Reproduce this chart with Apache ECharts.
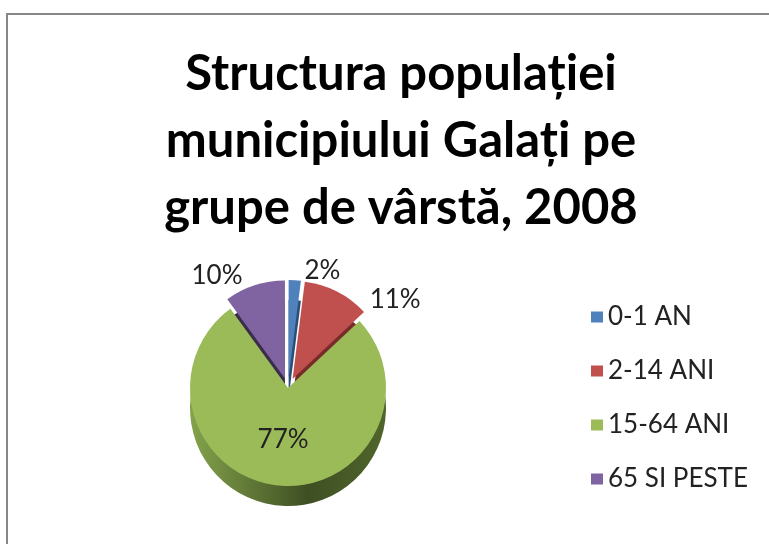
<!DOCTYPE html>
<html>
<head>
<meta charset="utf-8">
<script src="https://cdn.jsdelivr.net/npm/echarts@6/dist/echarts.min.js"></script>
<style>
  html, body { margin: 0; padding: 0; background: #fff; overflow: hidden; }
  #frame { position: absolute; left: 6px; top: 13px; width: 800px; height: 600px; border: 2px solid #878787; }
  #chart { position: absolute; left: 0; top: 0; width: 769px; height: 544px; }
</style>
</head>
<body>
<div id="frame"></div>
<div id="chart"></div>
<script>
// date: structura pe grupe de varsta (procente)
const categories = ['0-1 AN', '2-14 ANI', '15-64 ANI', '65 SI PESTE'];
const shares = [2, 11, 77, 10];
const pulledOut = [true, true, false, true];

const topColors = ['#4F81BD', '#C0504D', '#9BBB59', '#8064A2'];
const sideColors = [
  '#2C4D75',
  '#772C2A',
  new echarts.graphic.LinearGradient(0, 0, 1, 0, [
    { offset: 0, color: '#84A34B' },
    { offset: 0.6, color: '#3E4F23' },
    { offset: 1, color: '#50652B' }
  ]),
  '#3A2D4C'
];

const center = [288, 388];
const radius = 98;
const depth = 20;
const font = 'Lato, "Open Sans", sans-serif';

const chart = echarts.init(document.getElementById('chart'));

const topData = categories.map((name, i) => ({
  name: name,
  value: shares[i],
  selected: pulledOut[i],
  itemStyle: { color: topColors[i] },
  label: shares[i] > 50 ? { position: 'inside' } : {}
}));

const sideData = categories.map((name, i) => ({
  name: name,
  value: shares[i],
  selected: pulledOut[i],
  itemStyle: { color: sideColors[i] }
}));

const option = {
  animation: false,
  title: {
    text: 'Structura populației\nmunicipiului Galați pe\ngrupe de vârstă, 2008',
    left: 396,
    top: 36,
    textAlign: 'center',
    textStyle: {
      fontFamily: font,
      fontSize: 49,
      fontWeight: 'bold',
      lineHeight: 67,
      color: '#000'
    }
  },
  legend: {
    orient: 'vertical',
    left: 586,
    top: 299,
    icon: 'rect',
    itemWidth: 12,
    itemHeight: 11,
    itemGap: 28,
    selectedMode: false,
    textStyle: { fontFamily: font, fontSize: 26, color: '#222' },
    itemStyle: { borderWidth: 0 },
    data: categories.map((name, i) => ({
      name: name,
      itemStyle: { color: topColors[i], borderWidth: 0 }
    }))
  },
  series: [
    {
      // peretele lateral (grosimea)
      type: 'pie',
      z: 1,
      silent: true,
      center: [center[0], center[1] + depth],
      radius: radius,
      startAngle: 90,
      selectedMode: 'multiple',
      selectedOffset: 10,
      itemStyle: { borderWidth: 0 },
      label: { show: false },
      labelLine: { show: false },
      data: sideData
    },
    {
      type: 'pie',
      z: 2,
      center: center,
      radius: radius,
      startAngle: 90,
      selectedMode: 'multiple',
      selectedOffset: 10,
      itemStyle: { borderWidth: 0 },
      emphasis: { disabled: true },
      label: {
        position: 'outside',
        formatter: '{c}%',
        fontFamily: font,
        fontSize: 26,
        color: '#222'
      },
      labelLine: { show: false, length: 10, length2: 4 },
      data: topData
    }
  ]
};

chart.setOption(option);
</script>
</body>
</html>
